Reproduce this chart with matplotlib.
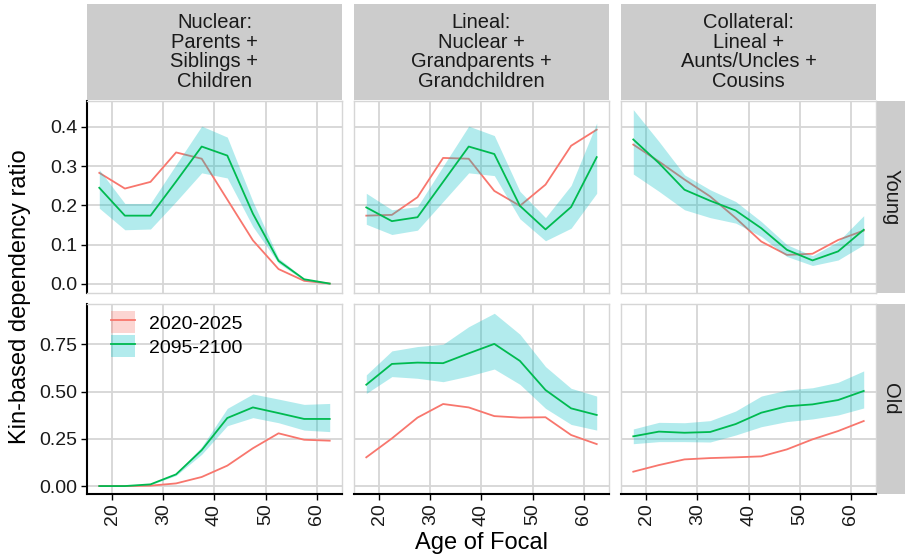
import matplotlib
matplotlib.use("Agg")
import matplotlib.pyplot as plt
from matplotlib.patches import Patch
from matplotlib.lines import Line2D

plt.rcParams['font.family'] = ['Liberation Sans', 'DejaVu Sans']

# ---- data ----
ages = [17.5, 22.5, 27.5, 32.5, 37.5, 42.5, 47.5, 52.5, 57.5, 62.5]
kin_types = ['Nuclear:\nParents +\nSiblings +\nChildren',
             'Lineal:\nNuclear +\nGrandparents +\nGrandchildren',
             'Collateral:\nLineal +\nAunts/Uncles +\nCousins']
groups = ['Young', 'Old']
periods = ['2020-2025', '2095-2100']

# Young
nuclear_young_2020 = [0.283, 0.243, 0.260, 0.335, 0.319, 0.215, 0.111, 0.038, 0.008, 0.001]
nuclear_young_2095 = [0.245, 0.174, 0.174, 0.261, 0.350, 0.327, 0.179, 0.059, 0.012, 0.001]
nuclear_young_lo = [0.193, 0.138, 0.140, 0.210, 0.283, 0.270, 0.146, 0.053, 0.009, 0.000]
nuclear_young_hi = [0.291, 0.205, 0.205, 0.304, 0.402, 0.374, 0.210, 0.066, 0.014, 0.001]

lineal_young_2020 = [0.174, 0.176, 0.221, 0.321, 0.319, 0.237, 0.199, 0.253, 0.352, 0.393]
lineal_young_2095 = [0.195, 0.160, 0.170, 0.260, 0.350, 0.331, 0.199, 0.139, 0.196, 0.323]
lineal_young_lo = [0.152, 0.126, 0.137, 0.210, 0.283, 0.276, 0.166, 0.110, 0.142, 0.231]
lineal_young_hi = [0.231, 0.189, 0.197, 0.300, 0.402, 0.378, 0.236, 0.169, 0.251, 0.410]

collateral_young_2020 = [0.355, 0.312, 0.266, 0.223, 0.168, 0.108, 0.074, 0.077, 0.112, 0.136]
collateral_young_2095 = [0.368, 0.308, 0.240, 0.212, 0.187, 0.142, 0.087, 0.060, 0.083, 0.138]
collateral_young_lo = [0.280, 0.236, 0.189, 0.169, 0.155, 0.121, 0.070, 0.047, 0.061, 0.100]
collateral_young_hi = [0.444, 0.363, 0.278, 0.240, 0.210, 0.159, 0.100, 0.072, 0.108, 0.174]

# Old
nuclear_old_2020 = [0.000, 0.000, 0.002, 0.014, 0.048, 0.108, 0.200, 0.279, 0.245, 0.240]
nuclear_old_2095 = [0.000, 0.000, 0.009, 0.062, 0.190, 0.360, 0.416, 0.386, 0.355, 0.355]
nuclear_old_lo = [0.000, 0.000, 0.007, 0.056, 0.168, 0.319, 0.362, 0.335, 0.296, 0.288]
nuclear_old_hi = [0.000, 0.000, 0.011, 0.067, 0.208, 0.411, 0.487, 0.460, 0.432, 0.437]

lineal_old_2020 = [0.152, 0.252, 0.362, 0.434, 0.416, 0.370, 0.362, 0.364, 0.270, 0.222]
lineal_old_2095 = [0.536, 0.646, 0.653, 0.650, 0.702, 0.752, 0.662, 0.508, 0.411, 0.376]
lineal_old_lo = [0.490, 0.579, 0.570, 0.552, 0.582, 0.619, 0.538, 0.411, 0.326, 0.296]
lineal_old_hi = [0.588, 0.715, 0.738, 0.750, 0.843, 0.914, 0.803, 0.632, 0.517, 0.476]

collateral_old_2020 = [0.076, 0.111, 0.141, 0.148, 0.152, 0.157, 0.194, 0.247, 0.291, 0.344]
collateral_old_2095 = [0.263, 0.288, 0.282, 0.286, 0.328, 0.388, 0.422, 0.432, 0.455, 0.503]
collateral_old_lo = [0.224, 0.235, 0.235, 0.233, 0.270, 0.314, 0.341, 0.355, 0.376, 0.413]
collateral_old_hi = [0.302, 0.337, 0.335, 0.346, 0.397, 0.476, 0.508, 0.520, 0.549, 0.609]

panels = {
    ('Young', 0): (nuclear_young_2020, nuclear_young_2095, nuclear_young_lo, nuclear_young_hi),
    ('Young', 1): (lineal_young_2020, lineal_young_2095, lineal_young_lo, lineal_young_hi),
    ('Young', 2): (collateral_young_2020, collateral_young_2095, collateral_young_lo, collateral_young_hi),
    ('Old', 0): (nuclear_old_2020, nuclear_old_2095, nuclear_old_lo, nuclear_old_hi),
    ('Old', 1): (lineal_old_2020, lineal_old_2095, lineal_old_lo, lineal_old_hi),
    ('Old', 2): (collateral_old_2020, collateral_old_2095, collateral_old_lo, collateral_old_hi),
}

red = '#F8766D'
green = '#00BA50'
band = '#00BFC4'
grid_col = '#D6D6D6'
strip_col = '#CCCCCC'

W, H = 906, 554
fig = plt.figure(figsize=(W / 100, H / 100), dpi=100)


def rect(x0, y0, x1, y1):
    return [x0 / W, 1 - y1 / H, (x1 - x0) / W, (y1 - y0) / H]


col_x = [(87, 342), (354, 609), (621, 876)]
row_y = [(101, 293), (304, 494)]
ylims = [(-0.023, 0.466), (-0.042, 0.963)]
yticks = [([0, 0.1, 0.2, 0.3, 0.4], ['0.0', '0.1', '0.2', '0.3', '0.4']),
          ([0, 0.25, 0.5, 0.75], ['0.00', '0.25', '0.50', '0.75'])]

axes = {}
for r, g in enumerate(groups):
    for c in range(3):
        ax = fig.add_axes(rect(col_x[c][0], row_y[r][0], col_x[c][1], row_y[r][1]))
        axes[(r, c)] = ax
        y20, y95, lo, hi = panels[(g, c)]
        ax.plot(ages, y20, color=red, lw=1.3, zorder=2)
        ax.fill_between(ages, lo, hi, color=band, alpha=0.3, lw=0, zorder=3)
        ax.plot(ages, y95, color=green, lw=1.3, zorder=4)

        ax.set_xlim(15.1, 64.9)
        ax.set_ylim(*ylims[r])
        ax.set_xticks([20, 30, 40, 50, 60])
        ax.set_yticks(yticks[r][0])
        ax.grid(True, color=grid_col, lw=1.3)
        ax.set_axisbelow(True)
        for s in ax.spines.values():
            s.set_color(grid_col)
            s.set_linewidth(1.0)
        ax.tick_params(length=0, labelsize=14, colors='#1a1a1a')

        if c == 0:
            ax.spines['left'].set_color('black')
            ax.spines['left'].set_linewidth(1.5)
            ax.set_yticklabels(yticks[r][1])
            ax.tick_params(axis='y', length=4, width=1.0, color='black', pad=3)
        else:
            ax.set_yticklabels([])
        if r == 1:
            ax.spines['bottom'].set_color('black')
            ax.spines['bottom'].set_linewidth(1.5)
            ax.set_xticklabels(['20', '30', '40', '50', '60'], rotation=90)
            ax.tick_params(axis='x', length=4, width=1.0, color='black', pad=3)
        else:
            ax.set_xticklabels([])

# top strips
for c in range(3):
    sax = fig.add_axes(rect(col_x[c][0], 4, col_x[c][1], 100))
    sax.set_facecolor(strip_col)
    sax.set_xticks([])
    sax.set_yticks([])
    for s in sax.spines.values():
        s.set_visible(False)
    sax.text(0.5, 0.5, kin_types[c], ha='center', va='center', fontsize=14.5,
             color='#1a1a1a', linespacing=1.05, transform=sax.transAxes)

# right strips
for r, g in enumerate(groups):
    sax = fig.add_axes(rect(877, row_y[r][0], 905, row_y[r][1]))
    sax.set_facecolor(strip_col)
    sax.set_xticks([])
    sax.set_yticks([])
    for s in sax.spines.values():
        s.set_visible(False)
    sax.text(0.5, 0.5, g, ha='center', va='center', fontsize=14.5, rotation=-90,
             color='#1a1a1a', transform=sax.transAxes)

# legend inside bottom-left panel
handles = [(Patch(facecolor=red, alpha=0.3, lw=0), Line2D([], [], color=red, lw=1.3)),
           (Patch(facecolor=band, alpha=0.3, lw=0), Line2D([], [], color=green, lw=1.3))]
axes[(1, 0)].legend(handles, periods, loc='upper left', bbox_to_anchor=(0.095, 0.962),
                    frameon=False, fontsize=14, borderpad=0, borderaxespad=0,
                    handlelength=1.2, handleheight=1.35, handletextpad=0.75,
                    labelspacing=0.12)

fig.text(481 / W, 1 - 543 / H, 'Age of Focal', ha='center', va='center', fontsize=17,
         color='black')
fig.text(20 / W, 1 - 297 / H, 'Kin-based dependency ratio', ha='center', va='center',
         fontsize=17, rotation=90, color='black')

fig.savefig('out.png', dpi=100)
